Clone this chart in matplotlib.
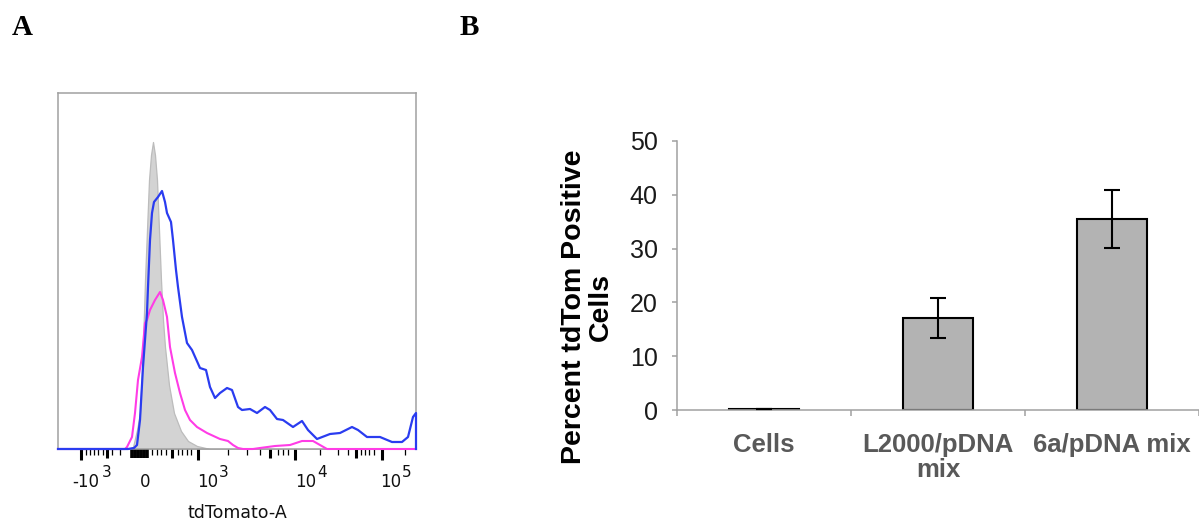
import numpy as np
import matplotlib
matplotlib.use("Agg")
import matplotlib.pyplot as plt

# ---- panel A: tdTomato histogram (display channels, events per bin) ----
gray_ch = [0, 70, 75, 79, 82, 84, 86, 87, 89, 91, 93, 95, 97, 99, 101, 103, 105, 107,
           111, 116, 123, 130, 139, 152, 358]
gray_ct = [0, 0, 2, 19, 36, 79, 136, 169, 219, 269, 294, 307, 294, 269, 219, 169, 129, 102,
           64, 36, 18, 8, 3, 0, 0]

blue_ch = [0, 70, 76, 79, 82, 85, 89, 90, 92, 94, 96, 100, 104, 107, 109, 113, 115, 118,
           120, 124, 129, 134, 142, 148, 152, 157, 162, 169, 174, 180, 184, 192, 199, 207,
           212, 219, 225, 235, 244, 250, 259, 272, 282, 294, 300, 309, 322, 334, 344, 350,
           355, 358, 358]
blue_ct = [0, 0, 1, 4, 29, 82, 136, 162, 209, 236, 247, 252, 258, 247, 236, 227, 209, 179,
           162, 132, 106, 99, 81, 79, 62, 51, 56, 61, 59, 42, 39, 40, 36, 42,
           39, 30, 29, 22, 28, 19, 10, 15, 16, 22, 19, 12, 12, 7, 7, 12,
           32, 36, 0]

pink_ch = [0, 67, 69, 74, 77, 80, 84, 87, 89, 92, 97, 102, 105, 109, 112, 117, 122, 127,
           132, 139, 149, 162, 170, 175, 180, 185, 195, 202, 217, 232, 244, 255, 262, 269, 358]
pink_ct = [0, 0, 2, 12, 36, 69, 92, 126, 129, 139, 149, 157, 149, 132, 102, 76, 56, 39,
           29, 22, 16, 10, 8, 4, 1, 0, 0, 1, 3, 4, 8, 8, 4, 0, 0]

# biexponential axis: tick positions in display channels
major_ch = [23, 140, 237, 324]
zero_ch = [74, 77, 80, 83, 86, 89]
medium_ch = [49, 114, 212, 298]
minor_ch = [28, 32, 36, 40, 45, 54, 62, 94, 99, 103, 108, 120, 124, 129, 133,
            170, 189, 202, 220, 225, 230, 262, 280, 290, 303, 307, 311, 316, 347]
label_base = ["-10", "0", "10", "10", "10"]
label_exp = ["3", "", "3", "4", "5"]
label_ch = [14, 82, 139, 237, 322]

# ---- panel B: bar chart ----
categories = ["Cells", "L2000/pDNA\nmix", "6a/pDNA mix"]
percent_pos = [0.2, 17.1, 35.5]
percent_err = [0.05, 3.7, 5.3]

W, H = 1199, 525
fig = plt.figure(figsize=(W / 100, H / 100), dpi=100)

# ---------------- A ----------------
axA = fig.add_axes([58 / W, 1 - 449 / H, 358 / W, 356 / H])
axA.fill_between(gray_ch, gray_ct, 0, facecolor="#d3d3d3", edgecolor="#bcbcbc",
                 linewidth=0.9, zorder=1)
axA.plot(pink_ch, pink_ct, color="#ff3ce6", lw=1.5, zorder=3, clip_on=False,
         solid_joinstyle="round")
axA.plot(blue_ch, blue_ct, color="#2a3cf0", lw=1.6, zorder=4, clip_on=False,
         solid_joinstyle="round")
axA.set_xlim(0, 358)
axA.set_ylim(0, 356)
axA.set_yticks([])
for s in axA.spines.values():
    s.set_color("#a0a0a0")
    s.set_linewidth(1.1)

axA.set_xticks(major_ch)
axA.set_xticks(minor_ch, minor=True)
axA.tick_params(axis="x", which="major", length=7.8, width=2.2, color="black",
                direction="out", labelbottom=False)
axA.tick_params(axis="x", which="minor", length=4.2, width=0.9, color="black",
                direction="out")
xt = axA.get_xaxis_transform()
axA.vlines(medium_ch, 0, -0.026, transform=xt, colors="black",
           linewidth=2.2, clip_on=False)
axA.vlines(zero_ch, 0, -0.024, transform=xt, colors="black",
           linewidth=2.6, clip_on=False)

for base, ex, xc in zip(label_base, label_exp, label_ch):
    axA.text(xc, -0.107, base, transform=xt, ha="left", va="baseline",
             fontsize=12, family="DejaVu Sans", color="#111111")
    if ex:
        dx = 30 if base.startswith("-") else 22
        axA.annotate(ex, xy=(xc, -0.107), xycoords=xt, xytext=(dx, 10),
                     textcoords="offset pixels", ha="left", va="baseline",
                     fontsize=11, family="DejaVu Sans", color="#111111")

fig.text(237 / W, 1 - 518 / H, "tdTomato-A", ha="center", va="baseline",
         fontsize=12.5, family="DejaVu Sans", color="#111111")

# ---------------- B ----------------
axB = fig.add_axes([677 / W, 1 - 410 / H, (W - 677) / W, 269 / H])
xpos = np.arange(len(categories))
axB.bar(xpos, percent_pos, width=0.4, color="#b3b3b3", edgecolor="black",
        linewidth=1.5, zorder=2)
axB.errorbar(xpos, percent_pos, yerr=percent_err, fmt="none", ecolor="black",
             elinewidth=1.5, capsize=5.5, capthick=1.5, zorder=3)
axB.set_xlim(-0.5, -0.5 + (W - 677) / 175)
axB.set_ylim(0, 50)
axB.set_yticks(range(0, 51, 10))
axB.set_xticks([-0.5, 0.5, 1.5, 2.5])
axB.set_xticks(xpos, minor=True)
axB.set_xticklabels([])
axB.set_xticklabels(categories, minor=True)
axB.tick_params(axis="x", which="major", length=4.5, width=1.1, color="#a0a0a0",
                direction="out")
axB.tick_params(axis="x", which="minor", length=0, pad=16.5, labelsize=18.5,
                labelcolor="#595959")
axB.tick_params(axis="y", length=3.8, width=1.1, color="#a0a0a0", direction="out",
                pad=10, labelsize=18, labelcolor="#1a1a1a")
for lab in axB.get_xticklabels(minor=True):
    lab.set_fontweight("bold")
    lab.set_family("Liberation Sans")
    lab.set_linespacing(1.05)
for lab in axB.get_yticklabels():
    lab.set_family("Liberation Sans")
for side in ("top", "right"):
    axB.spines[side].set_visible(False)
for side in ("left", "bottom"):
    axB.spines[side].set_color("#a0a0a0")
    axB.spines[side].set_linewidth(1.1)

axB.text((587.5 - 677) / (W - 677), (410 - 307) / 269, "Percent tdTom Positive\nCells",
         transform=axB.transAxes, rotation=90, ha="center", va="center",
         multialignment="center", fontsize=20.5, fontweight="bold",
         family="Liberation Sans", linespacing=1.05, color="black")

# panel letters
fig.text(12 / W, 1 - 35 / H, "A", fontsize=21, fontweight="bold",
         family="Liberation Serif", va="baseline", ha="left")
fig.text(460 / W, 1 - 35 / H, "B", fontsize=21, fontweight="bold",
         family="Liberation Serif", va="baseline", ha="left")

fig.savefig("out.png", dpi=100)
